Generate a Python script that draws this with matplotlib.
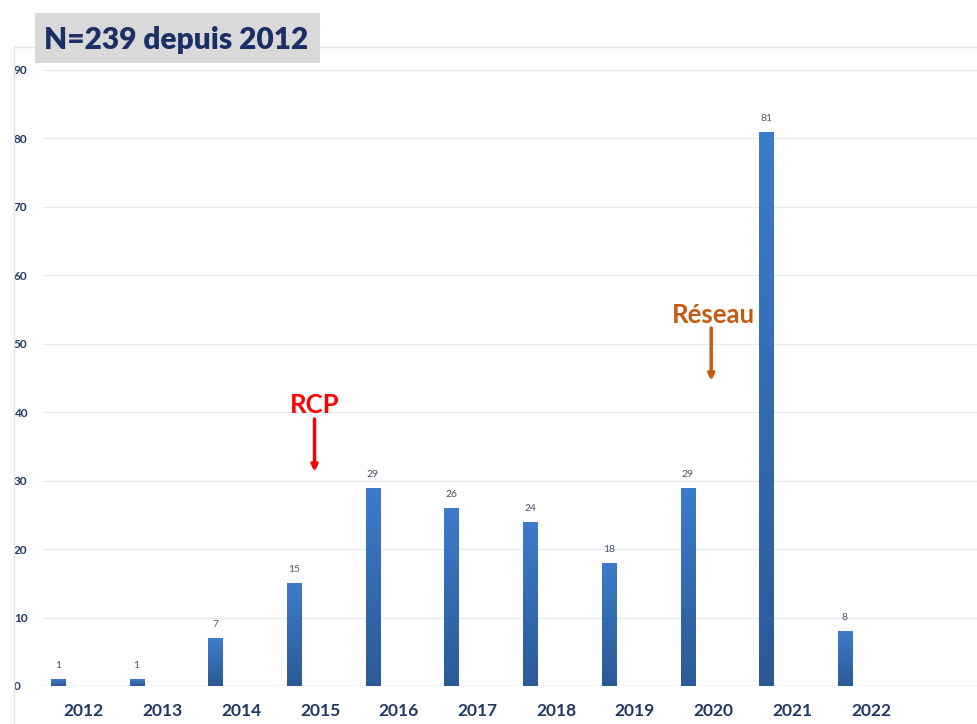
import numpy as np
import matplotlib.pyplot as plt
from matplotlib.patches import Rectangle
from matplotlib.colors import LinearSegmentedColormap

years = ['2012', '2013', '2014', '2015', '2016', '2017', '2018', '2019', '2020', '2021', '2022']
counts = [1, 1, 7, 15, 29, 26, 24, 18, 29, 81, 8]
yticks = [0, 10, 20, 30, 40, 50, 60, 70, 80, 90]

navy = '#1F3864'
bar_top = '#3D7CCB'
bar_bottom = '#2B5A97'

fig = plt.figure(figsize=(9.78, 7.24), dpi=100)
plt.rcParams['font.family'] = ['Lato', 'DejaVu Sans']

# faint chart-area border
fig.patches.append(Rectangle((14 / 978, -0.1), 1.2, (724 - 47) / 724 + 0.1,
                             transform=fig.transFigure, fill=False,
                             edgecolor='#E3E3E3', linewidth=1.0, zorder=0))

ax = fig.add_axes([43 / 978, (724 - 686) / 724, 1 - 43 / 978, (686 - 70) / 724])
x = np.arange(len(years))
offset = -0.33
width = 0.18

# gradient bars
grad = np.linspace(0, 1, 256).reshape(-1, 1)
cmap = LinearSegmentedColormap.from_list('barg', [bar_bottom, bar_top])
for xi, v in zip(x, counts):
    left = xi + offset - width / 2
    rect = Rectangle((left, 0), width, v, facecolor='none', edgecolor='none')
    ax.add_patch(rect)
    im = ax.imshow(grad, extent=(left, left + width, 0, v), origin='lower',
                   cmap=cmap, aspect='auto', zorder=3)
    im.set_clip_path(rect)
    ax.text(xi + offset, v + 1.3, str(v), ha='center', va='bottom',
            fontsize=7.5, color='#4A5568', zorder=4)

ax.set_xlim(-0.52, 11.36)
ax.set_ylim(0, 90)
ax.set_yticks(yticks)
ax.set_yticklabels([str(t) for t in yticks], fontsize=8.5, fontweight='bold', color=navy)
ax.set_xticks(x)
ax.set_xticklabels(years, fontsize=12.5, fontweight='bold', color=navy)
ax.tick_params(axis='both', length=0)
ax.tick_params(axis='x', pad=12)
for lbl in ax.get_yticklabels():
    lbl.set_horizontalalignment('left')
ax.yaxis.set_tick_params(pad=21)
ax.grid(axis='y', color='#E4EBF3', linewidth=1.0, zorder=0)
ax.set_axisbelow(True)
for s in ax.spines.values():
    s.set_visible(False)
ax.axhline(0, color='#D6DEE8', linewidth=1.0, zorder=1)

# annotations
ax.text(2.93, 41.1, 'RCP', ha='center', va='center', fontsize=18.5,
        fontweight='bold', color='#FF0000')
ax.annotate('', xy=(2.93, 31.3), xytext=(2.93, 39.0),
            arrowprops=dict(arrowstyle='-|>', color='#FF0000', lw=2.5,
                            mutation_scale=9, shrinkA=0, shrinkB=0))
ax.text(8.0, 54.2, 'Réseau', ha='center', va='center', fontsize=18.5,
        fontweight='bold', color='#C55A11')
ax.annotate('', xy=(7.97, 44.6), xytext=(7.97, 52.3),
            arrowprops=dict(arrowstyle='-|>', color='#C55A11', lw=2.5,
                            mutation_scale=9, shrinkA=0, shrinkB=0))

# title box
fig.patches.append(Rectangle((35 / 978, (724 - 63) / 724), 285 / 978, 50 / 724,
                             transform=fig.transFigure, facecolor='#D9D9D9',
                             edgecolor='none', zorder=5))
fig.text(176 / 978, (724 - 40) / 724, 'N=239 depuis 2012', ha='center', va='center',
         fontsize=21.5, fontweight='heavy', color='#1B2F66', zorder=6)

fig.savefig('out.png', dpi=100)
